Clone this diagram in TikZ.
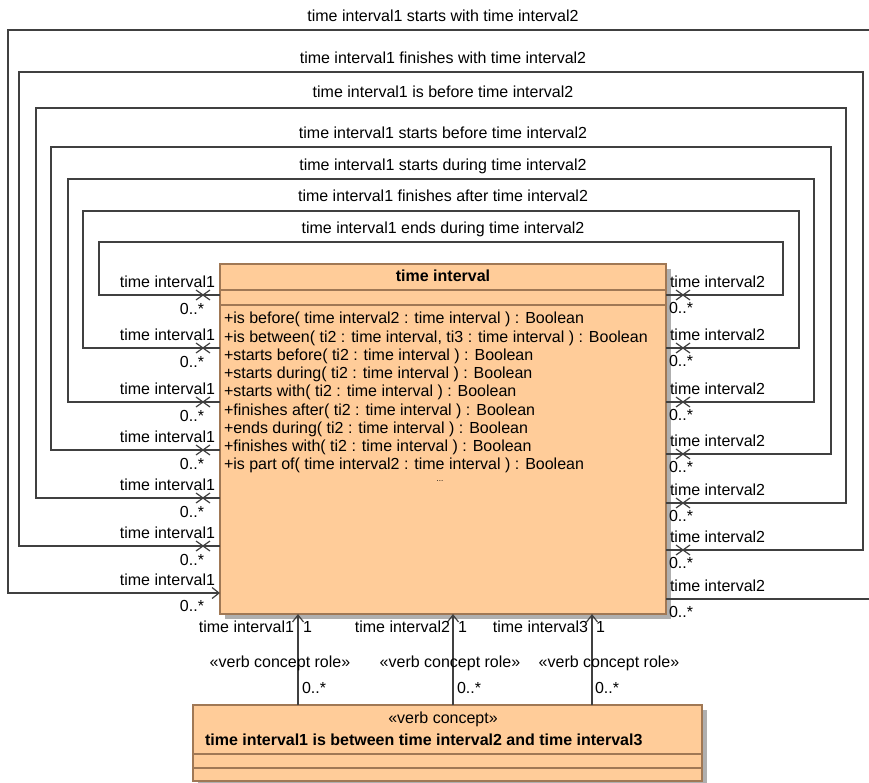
\documentclass[tikz,border=0pt]{standalone}
\usepackage{fontspec}
\setmainfont{Liberation Sans}
\usetikzlibrary{arrows.meta}
\definecolor{linec}{RGB}{64,64,64}
\definecolor{boxf}{RGB}{255,204,153}
\definecolor{boxb}{RGB}{160,120,85}
\definecolor{shadowc}{RGB}{175,175,175}
\tikzset{
  conn/.style={draw=linec, line width=1.2pt},
  tipin/.style={-{Straight Barb[length=7pt,width=11pt,line width=1.2pt]}},
  lbl/.style={font=\fontsize{16}{18}\selectfont, inner sep=0pt, outer sep=0pt, text height=11.5pt, text depth=0pt},
  blbl/.style={lbl, font=\fontsize{16}{18}\selectfont\bfseries},
  umlbox/.style={draw=boxb, fill=boxf, line width=1.3pt, inner sep=0pt, outer sep=0pt, anchor=north west},
  shadowbox/.style={fill=shadowc, draw=none},
  xcross/.pic={\draw[conn] (-7,-5) -- (7,5) (-7,5) -- (7,-5);}
}
\begin{document}
\begin{tikzpicture}[x=1pt,y=-1pt]
\useasboundingbox (0,0) rectangle (869,782);
% shadows
\fill[shadowbox] (225,269) rectangle (671,619);
\fill[shadowbox] (198,710) rectangle (707,787);
% class box
\node[umlbox, minimum width=446pt, minimum height=350pt] (cls) at (220,264) {};
\draw[boxb, line width=1.2pt] (cls.west |- 0,290) -- (cls.east |- 0,290);
\draw[boxb, line width=1.2pt] (cls.west |- 0,305) -- (cls.east |- 0,305);
\node[blbl] (clsname) at (443,276) {time interval};
\foreach \i/\t in {0/{+is before( time interval2 : time interval ) : Boolean},
  1/{+is between( ti2 : time interval, ti3 : time interval ) : Boolean},
  2/{+starts before( ti2 : time interval ) : Boolean},
  3/{+starts during( ti2 : time interval ) : Boolean},
  4/{+starts with( ti2 : time interval ) : Boolean},
  5/{+finishes after( ti2 : time interval ) : Boolean},
  6/{+ends during( ti2 : time interval ) : Boolean},
  7/{+finishes with( ti2 : time interval ) : Boolean},
  8/{+is part of( time interval2 : time interval ) : Boolean}}{
  \node[lbl, anchor=west] (op\i) at (224,{318+18.25*\i}) {\t};
}
\node[inner sep=0pt, font=\fontsize{8}{9}\selectfont] (dots) at (440,481) {...};
% verb concept box
\node[umlbox, minimum width=509pt, minimum height=76pt] (vc) at (193,705) {};
\draw[boxb, line width=1.2pt] (vc.west |- 0,754) -- (vc.east |- 0,754);
\draw[boxb, line width=1.2pt] (vc.west |- 0,768) -- (vc.east |- 0,768);
\node[lbl] (vcst) at (443,718) {«verb concept»};
\node[blbl, anchor=west] (vcname) at (205,740) {time interval1 is between time interval2 and time interval3};
% loop 1 (navigable end)
\coordinate (L1) at (cls.west |- 0,593);
\coordinate (R1) at (cls.east |- 0,599);
\draw[conn, tipin] (R1) -- (874,599) |- (8,30) |- (L1);
\node[lbl] (top1) at (443,16) {time interval1 starts with time interval2};
\node[lbl, anchor=east] (al1) at (215,580) {time interval1};
\node[lbl, anchor=east] (ml1) at (204,606) {0..*};
\node[lbl, anchor=west] (ar1) at (670,586) {time interval2};
\node[lbl, anchor=west] (mr1) at (669,612) {0..*};
% loops 2..7
\foreach \k/\yl/\yr/\xl/\xr/\tp/\ty/\nm in {
  2/546/550/19/863/72/58/finishes with,
  3/498/503/36/846/108/92/is before,
  4/450/454/51/831/147/133/starts before,
  5/402/402/68/814/179/165/starts during,
  6/348/348/83/799/211/196/finishes after,
  7/295/295/99/783/242/228/ends during}{
  \coordinate (L\k) at (cls.west |- 0,\yl);
  \coordinate (R\k) at (cls.east |- 0,\yr);
  \draw[conn] (L\k) -| (\xl,\tp) -| (\xr,\yr) -- (R\k);
  \pic at (203,\yl) {xcross};
  \pic at (683,\yr) {xcross};
  \node[lbl] (top\k) at (443,\ty) {time interval1 \nm\ time interval2};
  \node[lbl, anchor=east] (al\k) at (215,\yl-13) {time interval1};
  \node[lbl, anchor=east] (ml\k) at (204,\yl+14) {0..*};
  \node[lbl, anchor=west] (ar\k) at (670,\yr-13) {time interval2};
  \node[lbl, anchor=west] (mr\k) at (669,\yr+13) {0..*};
}
% verb concept roles
\foreach \j/\x/\rx/\ox/\cx in {1/298/294/302/280, 2/453/450/457/450, 3/592/588/595/609}{
  \coordinate (vb\j) at (vc.north -| \x,0);
  \coordinate (cb\j) at (cls.south -| \x,0);
  \draw[conn, tipin] (vb\j) -- (cb\j);
  \node[lbl, anchor=east] (rn\j) at (\rx,627) {time interval\j};
  \node[lbl, anchor=west] (one\j) at (\ox+1,627) {1};
  \node[lbl] (st\j) at (\cx,662) {«verb concept role»};
  \node[lbl, anchor=west] (zm\j) at (\ox,688) {0..*};
}
\end{tikzpicture}
\end{document}
